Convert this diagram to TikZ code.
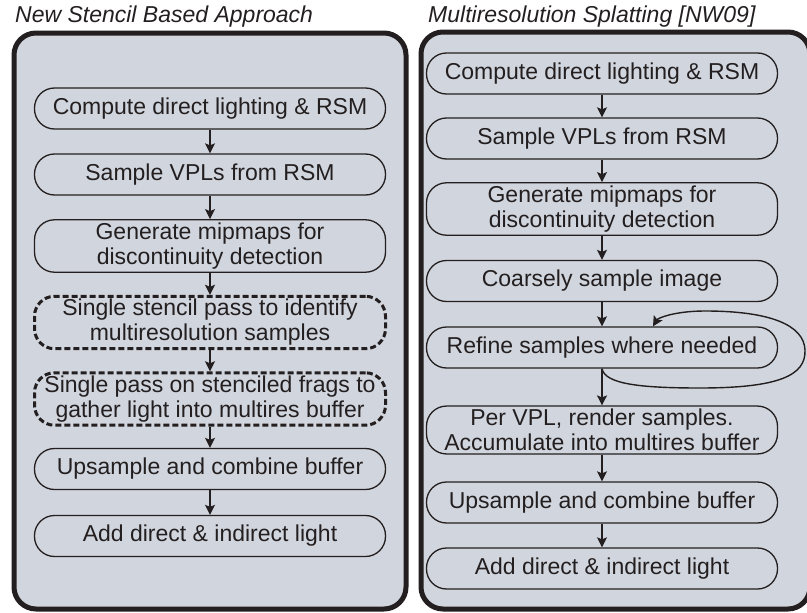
\documentclass[tikz,border=0pt]{standalone}
\usepackage{fontspec}
\setmainfont{Liberation Sans}
\usetikzlibrary{arrows.meta}
\definecolor{ink}{HTML}{231F20}
\definecolor{panel}{HTML}{D1D5DD}
\begin{document}
\begin{tikzpicture}[x=1pt,y=-1pt,
  panelbox/.style={draw=ink, line width=5pt, fill=panel, rounded corners=22pt},
  stepbox/.style={draw=ink, line width=1.3pt, rounded corners=20pt, minimum width=351pt,
    minimum height=41pt, inner xsep=4pt, inner ysep=3pt, align=center, text=ink,
    font=\fontsize{23}{25}\selectfont},
  dashbox/.style={stepbox, line width=3pt, dash pattern=on 6pt off 3pt},
  flow/.style={draw=ink, line width=1.4pt, -{Stealth[length=10pt,width=10pt,inset=2pt]}},
  heading/.style={anchor=base west, text=ink, inner sep=0pt, font=\fontsize{23}{25}\selectfont\itshape}]
\useasboundingbox (0,0) rectangle (807,613);
\draw[panelbox] (14,33) rectangle (406,609);
\draw[panelbox] (421,32) rectangle (810,609);
\node[heading] (t1) at (15,22) {New Stencil Based Approach};
\node[heading] (t2) at (428,22) {Multiresolution Splatting [NW09]};
% left column
\node[stepbox] (l1) at (210,108.5) {Compute direct lighting \& RSM};
\node[stepbox] (l2) at (210,174.5) {Sample VPLs from RSM};
\node[stepbox] (l3) at (210,246) {Generate mipmaps for\\discontinuity detection};
\node[dashbox] (l4) at (210,322.5) {Single stencil pass to identify\\multiresolution samples};
\node[dashbox] (l5) at (210,399) {Single pass on stenciled frags to\\gather light into multires buffer};
\node[stepbox] (l6) at (210,469) {Upsample and combine buffer};
\node[stepbox] (l7) at (210,536) {Add direct \& indirect light};
\draw[flow] (l1) -- (l2);
\draw[flow] (l2) -- (l3);
\draw[flow] (l3) -- (l4);
\draw[flow] (l4) -- (l5);
\draw[flow] (l5) -- (l6);
\draw[flow] (l6) -- (l7);
% right column
\node[stepbox] (r1) at (602,73.5) {Compute direct lighting \& RSM};
\node[stepbox] (r2) at (602,138.5) {Sample VPLs from RSM};
\node[stepbox] (r3) at (602,209) {Generate mipmaps for\\discontinuity detection};
\node[stepbox] (r4) at (602,281) {Coarsely sample image};
\node[stepbox] (r5) at (602,347.5) {Refine samples where needed};
\node[stepbox] (r6) at (602,430) {Per VPL, render samples.\\Accumulate into multires buffer};
\node[stepbox] (r7) at (602,502.5) {Upsample and combine buffer};
\node[stepbox] (r8) at (602,568.5) {Add direct \& indirect light};
\draw[flow] (r1) -- (r2);
\draw[flow] (r2) -- (r3);
\draw[flow] (r3) -- (r4);
\draw[flow] (r4) -- (r5);
\draw[flow] (r5) -- (r6);
\draw[flow] (r6) -- (r7);
\draw[flow] (r7) -- (r8);
\coordinate (loopin) at ([xshift=51pt]r5.north);
\draw[flow] (r5.south) .. controls (605,384) and (640,388) .. (700,388)
  .. controls (780,388) and (806,375) .. (805,350)
  .. controls (804,325) and (770,311) .. (705,311)
  .. controls (675,311) and (658,318) .. (loopin);
\end{tikzpicture}
\end{document}
